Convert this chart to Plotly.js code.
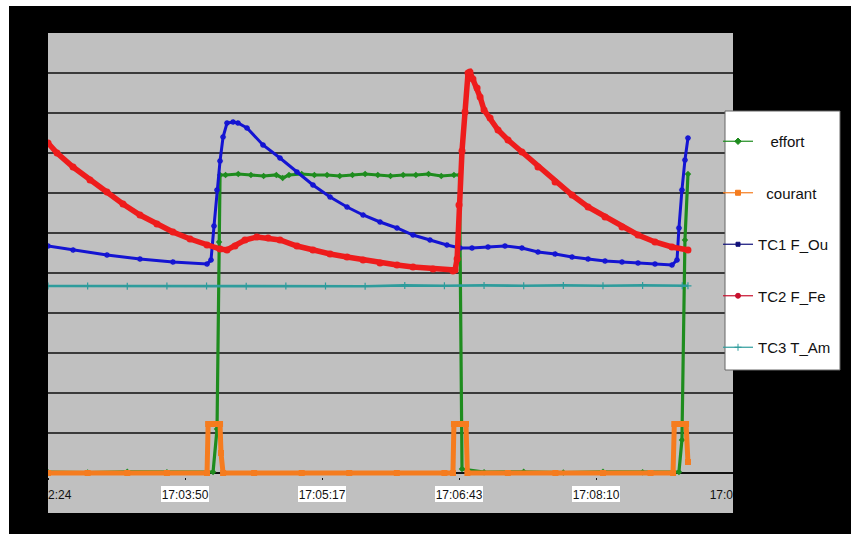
<!DOCTYPE html>
<html>
<head>
<meta charset="utf-8">
<script src="https://cdn.plot.ly/plotly-3.0.1.min.js"></script>
<style>html,body{margin:0;padding:0;background:#fff;}#chart{width:851px;height:534px;}</style>
</head>
<body>
<div id="chart"></div>
<script>
// time axis: seconds elapsed since 17:02:24
const tickSeconds = [0, 86.4, 172.8, 259.2, 345.6, 432];
const tickLabels = ['17:02:24', '17:03:50', '17:05:17', '17:06:43', '17:08:10', '17:09:36'];

const seriesNames = ['\u00a0\u00a0\u00a0effort', '\u00a0\u00a0courant', 'TC1 F_Ou', 'TC2 F_Fe', 'TC3 T_Am'];

const effortT = [0, 25, 50, 75, 100, 104.1, 106.6, 107.9, 108.5, 112, 120, 128, 136, 144, 148, 152, 160, 168, 176, 184, 192, 200, 208, 216, 224, 232, 240, 248, 256, 259.5, 261.1, 275, 300, 325, 350, 375, 397.9, 399.8, 401.7, 403.6];
const effortV = [0.2, 0.1, 0.3, 0.2, 0.1, 0.25, 11, 57.75, 74.5, 74.5, 74.75, 74.5, 74.25, 74.5, 73.75, 74.5, 74.75, 74.5, 74.5, 74.25, 74.5, 74.75, 74.5, 74.25, 74.5, 74.5, 74.75, 74.25, 74.5, 74.5, 1, 0.2, 0.3, 0.1, 0.3, 0.2, 0.25, 8.25, 58.25, 74.75];

const courantT = [0, 25, 50, 75, 100.3, 101, 103, 105, 107, 108.5, 109.1, 110.4, 130, 160, 190, 220, 250, 255.4, 256, 258, 260, 262, 263.6, 264.5, 290, 320, 350, 380, 394.2, 395, 397, 399, 401, 402.4, 403.6];
const courantV = [0, 0, 0, 0, 0, 12.25, 12.25, 12.25, 12.25, 12.25, 5, 0, 0, 0, 0, 0, 0, 0, 12.25, 12.25, 12.25, 12.25, 12.25, 0, 0, 0, 0, 0, 0, 12.25, 12.25, 12.25, 12.25, 12.25, 2.75];

const tc1T = [0, 15.8, 37.2, 58.0, 78.8, 100.3, 102.8, 104.7, 106.6, 108.5, 110.4, 112.9, 116.7, 119.8, 125.5, 135.6, 146.3, 157.0, 167.1, 177.9, 188.6, 198.7, 209.4, 220.1, 230.2, 240.9, 251.6, 259.8, 267.4, 277.5, 288.2, 298.9, 309.0, 319.8, 330.5, 340.6, 351.3, 362.0, 372.1, 382.8, 393.5, 396.7, 397.9, 399.8, 401.7, 403.6];
const tc1V = [56.75, 55.75, 54.5, 53.5, 52.75, 52.25, 53.25, 61.75, 70.75, 78, 84, 87.5, 87.75, 87.5, 86.25, 82, 78.75, 75.25, 72, 69, 66.5, 64.5, 62.75, 61.25, 59.5, 58.25, 57, 56.25, 56.25, 56.5, 56.75, 56.25, 55.25, 54.75, 54, 53.5, 53, 52.75, 52.5, 52.25, 52, 53.25, 61.25, 70.75, 78.25, 83.75];

const tc2T = [0, 5.7, 15.8, 26.5, 37.2, 47.3, 58.0, 68.7, 78.8, 89.6, 100.3, 108.5, 112.9, 117.9, 124.2, 131.8, 138.8, 146.3, 157.0, 167.1, 177.9, 188.6, 198.7, 209.4, 220.1, 230.2, 242.8, 255.4, 256.7, 258.0, 259.2, 261.1, 263.0, 264.9, 266.1, 268.0, 270.6, 272.5, 275.0, 278.8, 283.8, 290.1, 298.9, 309.0, 319.8, 330.5, 340.6, 351.3, 362.0, 372.1, 382.8, 393.5, 403.6];
const tc2V = [82.5, 80, 76.5, 73.25, 70.25, 67.25, 64.5, 62.25, 60.25, 58.5, 57, 56, 55.75, 56.75, 58.25, 59, 58.75, 58.25, 56.75, 55.75, 54.75, 54, 53.25, 52.5, 52, 51.5, 51, 50.5, 50.75, 53.5, 67, 80.5, 90.25, 100, 100.25, 98.5, 96.25, 94, 90.75, 88.75, 85.75, 83.25, 80.25, 76.5, 72.75, 69.5, 66.5, 64, 61.5, 59.5, 57.75, 56.5, 55.75];

const tc3T = [0, 25, 50, 75, 100, 125, 150, 175, 200, 225, 250, 275, 300, 325, 350, 375, 400, 403.6];
const tc3V = [46.75, 46.75, 46.7, 46.75, 46.75, 46.7, 46.75, 46.75, 46.7, 46.9, 46.8, 46.9, 46.8, 46.9, 46.8, 46.9, 46.8, 46.8];

const gridValues = [0, 10, 20, 30, 40, 50, 60, 70, 80, 90, 100];

const C = {effort: '#1e8c1e', courant: '#f57c1f', tc1: '#1414d2', tc2: '#ee1c1c', tc3: '#2e9c9c'};

const dataTraces = [
  {x: effortT, y: effortV, color: C.effort, lw: 3.2, sym: 'diamond', ms: 5, mlw: 0},
  {x: courantT, y: courantV, color: C.courant, lw: 5, sym: 'square', ms: 6, mlw: 0},
  {x: tc1T, y: tc1V, color: C.tc1, lw: 3, sym: 'asterisk-open', ms: 5, mlw: 1.3},
  {x: tc2T, y: tc2V, color: C.tc2, lw: 5.5, sym: 'circle', ms: 7, mlw: 0},
  {x: tc3T, y: tc3V, color: C.tc3, lw: 2.6, sym: 'cross-thin-open', ms: 5, mlw: 1.2}
];
const legendSym = [
  {color: C.effort, sym: 'diamond', ms: 5},
  {color: C.courant, sym: 'square', ms: 5},
  {color: '#10107a', sym: 'square', ms: 4},
  {color: '#c8102e', sym: 'circle', ms: 5},
  {color: C.tc3, sym: 'cross-thin-open', ms: 5}
];

const traces = [];
dataTraces.forEach((d, i) => {
  traces.push({
    type: 'scatter', mode: 'lines+markers', x: d.x, y: d.y, showlegend: false,
    line: {color: d.color, width: d.lw},
    marker: {color: d.color, symbol: d.sym, size: d.ms, line: {color: d.color, width: d.mlw}},
    hoverinfo: 'skip'
  });
});
legendSym.forEach((s, i) => {
  traces.push({
    type: 'scatter', mode: 'lines+markers', x: [null], y: [null], name: seriesNames[i],
    legendgroup: 'g' + i, showlegend: true,
    line: {color: s.color, width: 1.2},
    marker: {color: s.color, symbol: s.sym, size: s.ms, line: {color: s.color, width: 1}}
  });
});

// pixel helpers for decorations (plot area spans y=-1..110 so the baseline at 0 is not clipped)
const L = 48, R = 118, T = 33, B = 57, W = 851, H = 534;
const pw = W - L - R, ph = H - T - B;
const px = v => (v - L) / pw;
const py = v => (H - B - v) / ph;

const shapes = [
  {type: 'rect', xref: 'paper', yref: 'paper', x0: px(9), x1: px(851), y0: py(534), y1: py(6), fillcolor: '#000', line: {width: 0}, layer: 'below'},
  {type: 'rect', xref: 'paper', yref: 'paper', x0: px(48), x1: px(733), y0: py(513), y1: py(33), fillcolor: '#c0c0c0', line: {width: 0}, layer: 'below'}
];
tickSeconds.slice(1, -1).forEach(t => {
  shapes.push({type: 'rect', xref: 'x', xsizemode: 'pixel', xanchor: t, x0: -24, x1: 24,
    yref: 'paper', y0: py(502), y1: py(486), fillcolor: '#fff', line: {width: 0}, layer: 'below'});
});
// black frame bands hiding the overhanging halves of the edge labels
shapes.push({type: 'rect', xref: 'paper', yref: 'paper', x0: px(9), x1: px(47.5), y0: py(534), y1: py(476), fillcolor: '#000', line: {width: 0}, layer: 'above'});
shapes.push({type: 'rect', xref: 'paper', yref: 'paper', x0: px(733), x1: px(851), y0: py(534), y1: py(476), fillcolor: '#000', line: {width: 0}, layer: 'above'});
shapes.push({type: 'rect', xref: 'paper', yref: 'paper', x0: px(725), x1: px(840), y0: py(370), y1: py(111),
  fillcolor: '#fff', line: {color: '#666', width: 1}, layer: 'above'});

const layout = {
  width: W, height: H,
  margin: {l: L, r: R, t: T, b: B, pad: 0},
  paper_bgcolor: '#fff', plot_bgcolor: 'rgba(0,0,0,0)',
  font: {family: 'Liberation Sans, Arial, sans-serif', color: '#000'},
  xaxis: {
    range: [0, 432], tickvals: tickSeconds, ticktext: tickLabels,
    showgrid: false, zeroline: false, showline: false,
    ticks: 'outside', ticklen: 2, tickcolor: '#111', tickwidth: 1,
    tickfont: {size: 12, color: '#111', family: 'Liberation Sans, Arial, sans-serif'},
    ticklabelstandoff: 5
  },
  yaxis: {
    range: [-1, 110], tickvals: gridValues, showticklabels: false, ticks: '',
    showgrid: true, gridcolor: '#3a3a3a', gridwidth: 1.3,
    zeroline: true, zerolinecolor: '#111', zerolinewidth: 1.5, showline: false,
    layer: 'below traces'
  },
  shapes: shapes,
  showlegend: true,
  legend: {
    x: px(718), xanchor: 'left', y: py(125), yanchor: 'top',
    bgcolor: 'rgba(0,0,0,0)', borderwidth: 0,
    font: {size: 15, color: '#111', family: 'Liberation Sans, Arial, sans-serif'},
    traceorder: 'grouped', tracegroupgap: 29, itemclick: false
  }
};

Plotly.newPlot('chart', traces, layout, {staticPlot: true, displayModeBar: false});
</script>
</body>
</html>
